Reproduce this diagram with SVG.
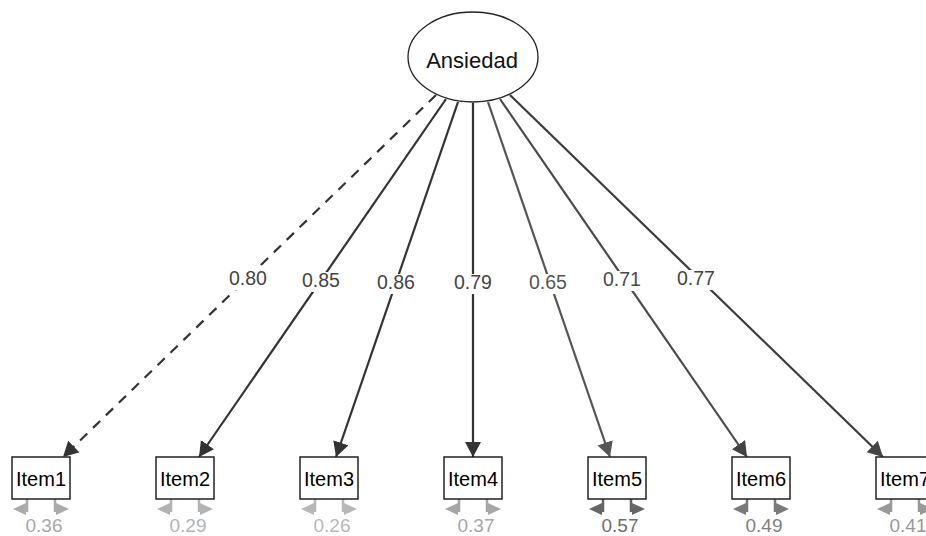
<svg xmlns="http://www.w3.org/2000/svg" width="926" height="536" viewBox="0 0 926 536">
<style>
.edge{fill:none;stroke-width:2.2}
.lbl{font-family:"Liberation Sans",Arial,sans-serif;font-size:19.5px;text-anchor:middle}
.box{fill:#fff;stroke:#222;stroke-width:1.5}
.itm{font-family:"Liberation Sans",Arial,sans-serif;font-size:20px;text-anchor:middle;fill:#000}
.res{font-family:"Liberation Sans",Arial,sans-serif;font-size:19px;text-anchor:middle}
.bg{fill:#fff}
</style>
<defs>
<marker id="a3" markerUnits="userSpaceOnUse" markerWidth="16" markerHeight="18" refX="15" refY="8" orient="auto"><path d="M0,0 L15,8 L0,16 Z" fill="#333"/></marker>
<marker id="a4" markerUnits="userSpaceOnUse" markerWidth="16" markerHeight="18" refX="15" refY="8" orient="auto"><path d="M0,0 L15,8 L0,16 Z" fill="#444"/></marker>
<marker id="a5" markerUnits="userSpaceOnUse" markerWidth="16" markerHeight="18" refX="15" refY="8" orient="auto"><path d="M0,0 L15,8 L0,16 Z" fill="#555"/></marker>
</defs>
<rect width="926" height="536" fill="#fff"/>
<g id="connectors">
<path class="edge" d="M436,95 L63,457" stroke="#333" stroke-dasharray="10,8" marker-end="url(#a3)"/>
<path class="edge" d="M446,99 L199,457" stroke="#333" marker-end="url(#a3)"/>
<path class="edge" d="M458,102 L336,457" stroke="#333" marker-end="url(#a3)"/>
<path class="edge" d="M473,103 L473,457" stroke="#333" marker-end="url(#a3)"/>
<path class="edge" d="M488,102 L610,457" stroke="#555" stroke-width="1.7" marker-end="url(#a5)"/>
<path class="edge" d="M500,99 L747,457" stroke="#4a4a4a" stroke-width="1.9" marker-end="url(#a4)"/>
<path class="edge" d="M510,95 L883,457" stroke="#3c3c3c" marker-end="url(#a4)"/>
<g id="edge-labels">
<rect class="bg" x="228" y="270" width="40" height="20"/><text class="lbl" x="248" y="285" fill="#444">0.80</text>
<rect class="bg" x="301" y="272" width="40" height="20"/><text class="lbl" x="321" y="287" fill="#444">0.85</text>
<rect class="bg" x="376" y="274" width="40" height="20"/><text class="lbl" x="396" y="289" fill="#444">0.86</text>
<rect class="bg" x="453" y="274" width="40" height="20"/><text class="lbl" x="473" y="289" fill="#444">0.79</text>
<rect class="bg" x="528" y="274" width="40" height="20"/><text class="lbl" x="548" y="289" fill="#555">0.65</text>
<rect class="bg" x="602" y="271" width="40" height="20"/><text class="lbl" x="622" y="286" fill="#4a4a4a">0.71</text>
<rect class="bg" x="676" y="270" width="40" height="20"/><text class="lbl" x="696" y="285" fill="#444">0.77</text>
</g>
<g id="residuals">
<g stroke="#aaa" fill="#aaa" stroke-width="2.5"><path d="M27,499 V512 M55,499 V512"/><path d="M26,503 L26,515 L13,509 Z M56,503 L56,515 L69,509 Z" stroke="none"/></g>
<g stroke="#b3b3b3" fill="#b3b3b3" stroke-width="2.5"><path d="M171,499 V512 M199,499 V512"/><path d="M170,503 L170,515 L157,509 Z M200,503 L200,515 L213,509 Z" stroke="none"/></g>
<g stroke="#b8b8b8" fill="#b8b8b8" stroke-width="2.5"><path d="M315,499 V512 M343,499 V512"/><path d="M314,503 L314,515 L301,509 Z M344,503 L344,515 L357,509 Z" stroke="none"/></g>
<g stroke="#a6a6a6" fill="#a6a6a6" stroke-width="2.5"><path d="M459,499 V512 M487,499 V512"/><path d="M458,503 L458,515 L445,509 Z M488,503 L488,515 L501,509 Z" stroke="none"/></g>
<g stroke="#666" fill="#666" stroke-width="2.5"><path d="M603,499 V512 M631,499 V512"/><path d="M602,503 L602,515 L589,509 Z M632,503 L632,515 L645,509 Z" stroke="none"/></g>
<g stroke="#7a7a7a" fill="#7a7a7a" stroke-width="2.5"><path d="M747,499 V512 M775,499 V512"/><path d="M746,503 L746,515 L733,509 Z M776,503 L776,515 L789,509 Z" stroke="none"/></g>
<g stroke="#999" fill="#999" stroke-width="2.5"><path d="M891,499 V512 M919,499 V512"/><path d="M890,503 L890,515 L877,509 Z M920,503 L920,515 L933,509 Z" stroke="none"/></g>
</g>
</g>
<g id="Ansiedad">
<ellipse cx="473" cy="57" rx="65" ry="45" fill="#fff" stroke="#222" stroke-width="1.3"/>
<text x="472" y="68" font-family="'Liberation Sans',Arial,sans-serif" font-size="22" text-anchor="middle" fill="#111">Ansiedad</text>
</g>
<g id="Item1"><rect class="box" x="12" y="457" width="58" height="42"/><text class="itm" x="41" y="486">Item1</text><text class="res" x="44" y="532" fill="#a8a8a8">0.36</text></g>
<g id="Item2"><rect class="box" x="156" y="457" width="58" height="42"/><text class="itm" x="185" y="486">Item2</text><text class="res" x="188" y="532" fill="#b3b3b3">0.29</text></g>
<g id="Item3"><rect class="box" x="300" y="457" width="58" height="42"/><text class="itm" x="329" y="486">Item3</text><text class="res" x="332" y="532" fill="#b8b8b8">0.26</text></g>
<g id="Item4"><rect class="box" x="444" y="457" width="58" height="42"/><text class="itm" x="473" y="486">Item4</text><text class="res" x="476" y="532" fill="#a6a6a6">0.37</text></g>
<g id="Item5"><rect class="box" x="588" y="457" width="58" height="42"/><text class="itm" x="617" y="486">Item5</text><text class="res" x="620" y="532" fill="#6e6e6e">0.57</text></g>
<g id="Item6"><rect class="box" x="732" y="457" width="58" height="42"/><text class="itm" x="761" y="486">Item6</text><text class="res" x="764" y="532" fill="#808080">0.49</text></g>
<g id="Item7"><rect class="box" x="876" y="457" width="58" height="42"/><text class="itm" x="905" y="486">Item7</text><text class="res" x="908" y="532" fill="#999">0.41</text></g>
</svg>
